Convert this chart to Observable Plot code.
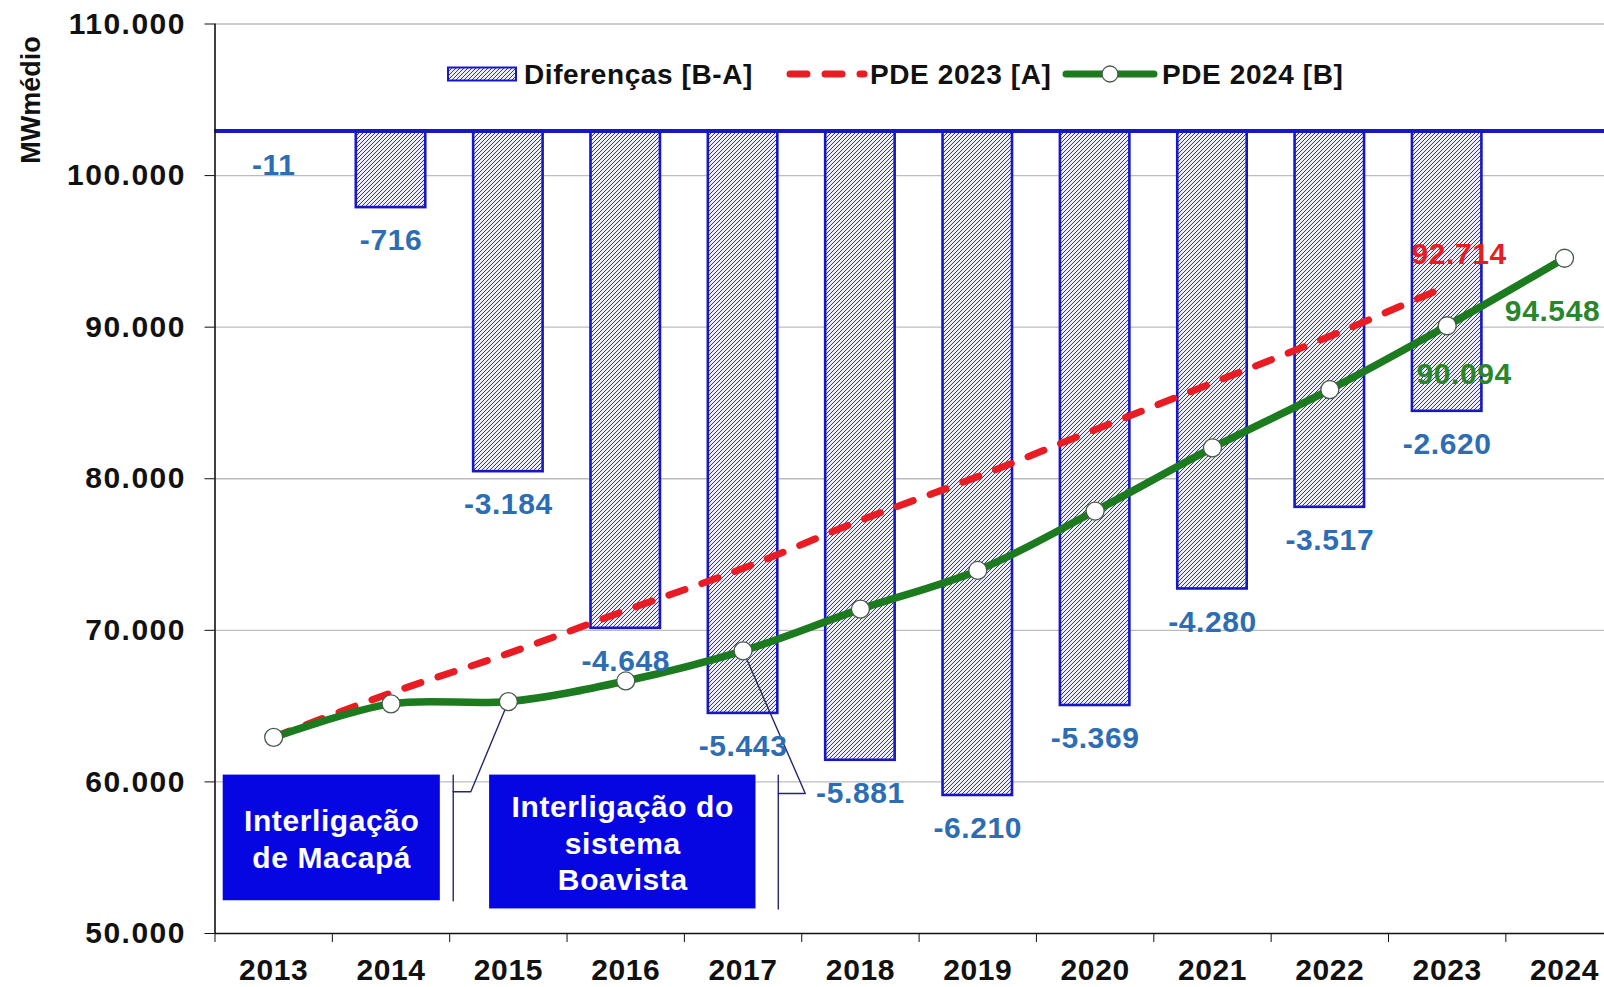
<!DOCTYPE html>
<html>
<head>
<meta charset="utf-8">
<script src="https://cdn.jsdelivr.net/npm/d3@7"></script>
<script src="https://cdn.jsdelivr.net/npm/@observablehq/plot@0.6"></script>
<style>
  html, body { margin: 0; padding: 0; background: #fff; overflow: hidden; }
  #wrap { position: relative; width: 1604px; height: 987px; overflow: hidden; font-family: "Liberation Sans", Arial, sans-serif; }
  #wrap > svg { position: absolute; left: 0; top: 0; max-width: none; }
  #wrap g[aria-label="y-axis tick label"] text { letter-spacing: 1.5px; }
  #legend { position: absolute; left: 0; top: 0; pointer-events: none; }
  #ytitle { position: absolute; left: 31px; top: 100px; transform: translate(-50%, -50%) rotate(-90deg);
            font-weight: bold; font-size: 27px; color: #111; white-space: nowrap; line-height: 1; }
</style>
</head>
<body>
<div id="wrap"></div>
<script>
// ---------------- data ----------------
const years = [2013, 2014, 2015, 2016, 2017, 2018, 2019, 2020, 2021, 2022, 2023, 2024];
const diffYears = [2013, 2014, 2015, 2016, 2017, 2018, 2019, 2020, 2021, 2022, 2023];
const diffs = [-11, -716, -3184, -4648, -5443, -5881, -6210, -5369, -4280, -3517, -2620];          // Diferenças [B-A]
const pde2023 = [62950, 65870, 68480, 71310, 74090, 77250, 80140, 83240, 86320, 89400, 92714];       // PDE 2023 [A]
const pde2024 = [62940, 65150, 65300, 66660, 68650, 71400, 73950, 77870, 82040, 85880, 90094, 94548]; // PDE 2024 [B]
const yTicks = [50000, 60000, 70000, 80000, 90000, 100000, 110000];
const yDomain = [50000, 110000];
const diffAxisDomain = [-7500, 1000];   // hidden secondary axis of the bars
const legendLabels = ["Diferenças [B-A]", "PDE 2023 [A]", "PDE 2024 [B]"];
const annotations = [
  {text: "Interligação\nde Macapá", x1: 2012.57, x2: 2014.42, y1: 52160, y2: 60450,
   bracketX: 2014.53, elbowX: 2014.68, elbowY: 59350, target: 2015},
  {text: "Interligação do\nsistema\nBoavista", x1: 2014.84, x2: 2017.11, y1: 51620, y2: 60450,
   bracketX: 2017.30, elbowX: 2017.53, elbowY: 59240, target: 2017}
];

// ---------------- helpers ----------------
const fmt = d3.formatLocale({decimal: ",", thousands: ".", grouping: [3], currency: ["", ""], minus: "-"}).format(",d");
const toPrimary = d3.scaleLinear().domain(diffAxisDomain).range(yDomain);
const base = toPrimary(0);
const barHalf = 0.296;

const diffData = diffYears.map((year, i) => ({year, diff: diffs[i]}));
const aData = pde2023.map((v, i) => ({year: years[i], v}));
const bData = pde2024.map((v, i) => ({year: years[i], v}));
const bOf = y => bData.find(d => d.year === y).v;
const boundaries = d3.range(years[0] - 0.5, years[years.length - 1] + 1, 1);

const brackets = [];
annotations.forEach((a, k) => {
  brackets.push({g: "v" + k, x: a.bracketX, y: a.y2});
  brackets.push({g: "v" + k, x: a.bracketX, y: a.y1});
  brackets.push({g: "c" + k, x: a.bracketX, y: a.elbowY});
  brackets.push({g: "c" + k, x: a.elbowX, y: a.elbowY});
  brackets.push({g: "c" + k, x: a.target, y: bOf(a.target)});
});

const lastA = [aData[aData.length - 1]];
const b2023 = bData.filter(d => d.year === 2023);
const b2024 = bData.filter(d => d.year === 2024);

const RED = "#e81c22", GREEN = "#1c7a1f", BLUE = "#1717c9", LBL = "#2d6db4";
const FONT = "'Liberation Sans', Arial, sans-serif";
const HATCH = `<rect width="4" height="4" fill="#ededf8"/>
  <path d="M-1,1 l2,-2 M0,4 l4,-4 M3,5 l2,-2" stroke="#33335f" stroke-width="0.95"/>`;

const chart = Plot.plot({
  width: 1604, height: 987,
  marginLeft: 214.5, marginRight: 0, marginTop: 23.5, marginBottom: 54,
  x: {type: "linear", domain: [2012.5, 2024.5], range: [214.5, 1622.7]},
  y: {domain: yDomain, range: [933, 23.5]},
  style: {fontFamily: FONT, fontWeight: "bold", background: "white", overflow: "hidden", color: "#111"},
  marks: [
    Plot.gridY(yTicks.slice(1), {stroke: "#bcbcbc", strokeOpacity: 1, strokeWidth: 1.3}),
    Plot.rectY(diffData, {x1: d => d.year - barHalf, x2: d => d.year + barHalf,
      y1: () => base, y2: d => toPrimary(d.diff), fill: "url(#hatch)", stroke: BLUE, strokeWidth: 2.6}),
    Plot.ruleY([base], {stroke: BLUE, strokeWidth: 4}),
    Plot.ruleY([yDomain[0]], {stroke: "#111", strokeWidth: 1.6}),
    Plot.ruleX([boundaries[0]], {stroke: "#111", strokeWidth: 1.6}),
    Plot.axisY({ticks: yTicks, tickFormat: fmt, tickSize: 10, tickPadding: 19, fontSize: 30, fontWeight: "bold", label: null, stroke: "#111"}),
    Plot.axisX({ticks: boundaries, tickFormat: () => "", tickSize: 9, label: null, stroke: "#111"}),
    Plot.axisX({ticks: years, tickFormat: d => String(d), tickSize: 0, tickPadding: 25, fontSize: 30, fontWeight: "bold", label: null}),
    Plot.line(aData, {x: "year", y: "v", stroke: RED, strokeWidth: 7, strokeDasharray: "17,18", curve: "catmull-rom"}),
    Plot.line(bData, {x: "year", y: "v", stroke: GREEN, strokeWidth: 7.5, curve: "catmull-rom"}),
    Plot.line(brackets, {x: "x", y: "y", z: "g", stroke: "#26266e", strokeWidth: 1.4, curve: "linear"}),
    Plot.dot(bData, {x: "year", y: "v", r: 9, fill: "white", stroke: "#4a5a4a", strokeWidth: 1.3}),
    Plot.text(diffData, {x: "year", y: d => toPrimary(d.diff), text: d => fmt(d.diff), dy: 33,
      fill: LBL, fontSize: 30, fontWeight: "bold"}),
    Plot.text(lastA, {x: "year", y: "v", text: d => fmt(d.v), dx: 12, dy: -32, fill: RED, fontSize: 30, fontWeight: "bold"}),
    Plot.text(b2023, {x: "year", y: "v", text: d => fmt(d.v), dx: 17, dy: 49, fill: "#2a862a", fontSize: 30, fontWeight: "bold"}),
    Plot.text(b2024, {x: "year", y: "v", text: d => fmt(d.v), dx: -12, dy: 53, fill: "#2a862a", fontSize: 30, fontWeight: "bold"}),
    Plot.rect(annotations, {x1: "x1", x2: "x2", y1: "y1", y2: "y2", fill: "#0606e2"}),
    Plot.text(annotations, {x: d => (d.x1 + d.x2) / 2, y: d => (d.y1 + d.y2) / 2, text: "text",
      fill: "white", fontSize: 30, fontWeight: "bold", lineHeight: 1.22})
  ]
});

// hatch pattern for the bars
const defs = document.createElementNS("http://www.w3.org/2000/svg", "defs");
defs.innerHTML = `<pattern id="hatch" patternUnits="userSpaceOnUse" width="4" height="4">${HATCH}</pattern>`;
chart.insertBefore(defs, chart.firstChild);
d3.select(chart).selectAll('g[aria-label="text"] text, g[aria-label="x-axis tick label"] text').style("letter-spacing", "0.6px");

const wrap = document.getElementById("wrap");
wrap.appendChild(chart);

// y-axis title
const yt = document.createElement("div");
yt.id = "ytitle";
yt.textContent = "MWmédio";
wrap.appendChild(yt);

// legend (inside plot area, at top)
const lg = d3.select(wrap).append("svg").attr("id", "legend").attr("width", 1604).attr("height", 120)
  .style("font-family", FONT).style("font-weight", "bold");
lg.append("defs").html(`<pattern id="hatchL" patternUnits="userSpaceOnUse" width="4" height="4">${HATCH}</pattern>`);
const ly = 74;
lg.append("rect").attr("x", 448).attr("y", ly - 6.5).attr("width", 68).attr("height", 13)
  .attr("fill", "url(#hatchL)").attr("stroke", BLUE).attr("stroke-width", 2);
lg.append("line").attr("x1", 790).attr("x2", 864).attr("y1", ly).attr("y2", ly)
  .attr("stroke", RED).attr("stroke-width", 7).attr("stroke-linecap", "round").attr("stroke-dasharray", "17,18");
lg.append("line").attr("x1", 1066).attr("x2", 1154).attr("y1", ly).attr("y2", ly)
  .attr("stroke", GREEN).attr("stroke-width", 7).attr("stroke-linecap", "round");
lg.append("circle").attr("cx", 1110).attr("cy", ly).attr("r", 8).attr("fill", "white").attr("stroke", "#4a5a4a").attr("stroke-width", 1.3);
[[524, legendLabels[0]], [870, legendLabels[1]], [1162, legendLabels[2]]].forEach(([x, t]) => {
  lg.append("text").attr("x", x).attr("y", ly + 10).attr("font-size", 28).attr("fill", "#111")
    .style("letter-spacing", "0.6px").text(t);
});
</script>
</body>
</html>
